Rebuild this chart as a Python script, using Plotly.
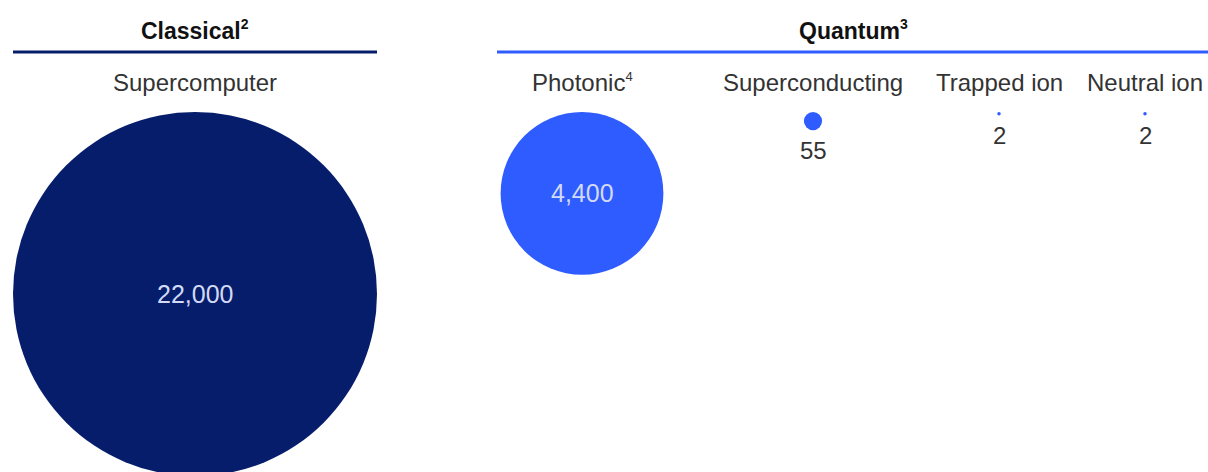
import math
import plotly.graph_objects as go

# ---- data ----
groups = ["Classical", "Quantum"]
group_notes = ["2", "3"]
categories = ["Supercomputer", "Photonic", "Superconducting", "Trapped ion", "Neutral ion"]
category_notes = ["", "4", "", "", ""]
category_group = [0, 1, 1, 1, 1]
values = [22000, 4400, 55, 2, 2]
value_labels = ["22,000", "4,400", "55", "2", "2"]

# ---- layout / style ----
W, H = 1208, 472
x_centers = [195, 582, 813, 999, 1145]
top_y = 112
r_max = 182  # radius for largest value (area-proportional)
colors = ["#061d6c", "#2f5cff", "#2f5cff", "#2f5cff", "#2f5cff"]
group_lines = [(13, 377, "#061d6c"), (497, 1208, "#2f5cff")]
group_label_x = [195, 853]
FONT = "Liberation Sans, Arial, sans-serif"


def with_note(text, note, size):
    if not note:
        return text
    return f"{text}<sup><span style='font-size:{size}px'>{note}</span></sup>"


vmax = max(values)
radii = [r_max * math.sqrt(v / vmax) for v in values]
cy = [top_y + r for r in radii]

fig = go.Figure()
fig.add_trace(go.Scatter(
    x=x_centers, y=cy, mode="markers",
    marker=dict(size=[2 * r for r in radii], color=colors, sizemode="diameter",
                line=dict(width=0), opacity=1),
    hoverinfo="skip", cliponaxis=True,
))

# value labels: inside for big circles, below for small
for xc, yc, r, lab in zip(x_centers, cy, radii, value_labels):
    if r > 40:
        fig.add_annotation(x=xc, y=yc, text=lab, showarrow=False,
                           font=dict(family=FONT, size=25, color="#d3daf5"),
                           xanchor="center", yanchor="middle")
    else:
        fig.add_annotation(x=xc, y=yc + r + 5, text=lab, showarrow=False,
                           font=dict(family=FONT, size=24, color="#333333"),
                           xanchor="center", yanchor="top")

# category labels
for xc, cat, note in zip(x_centers, categories, category_notes):
    fig.add_annotation(x=xc, y=82, text=with_note(cat, note, 13), showarrow=False,
                       font=dict(family=FONT, size=24, color="#333333"),
                       xanchor="center", yanchor="middle")

# group headers and lines
for (x0, x1, col), g, note, gx in zip(group_lines, groups, group_notes, group_label_x):
    fig.add_shape(type="line", x0=x0, x1=x1, y0=52, y1=52,
                  line=dict(color=col, width=3), xref="x", yref="y")
    fig.add_annotation(x=gx, y=30, text="<b>" + with_note(g, note, 14) + "</b>",
                       showarrow=False,
                       font=dict(family=FONT, size=23, color="#111111"),
                       xanchor="center", yanchor="middle")

fig.update_layout(
    width=W, height=H, margin=dict(l=0, r=0, t=0, b=0),
    paper_bgcolor="white", plot_bgcolor="white", showlegend=False,
    xaxis=dict(range=[0, W], visible=False, fixedrange=True),
    yaxis=dict(range=[H, 0], visible=False, fixedrange=True),
)
fig.write_html("out.html")
